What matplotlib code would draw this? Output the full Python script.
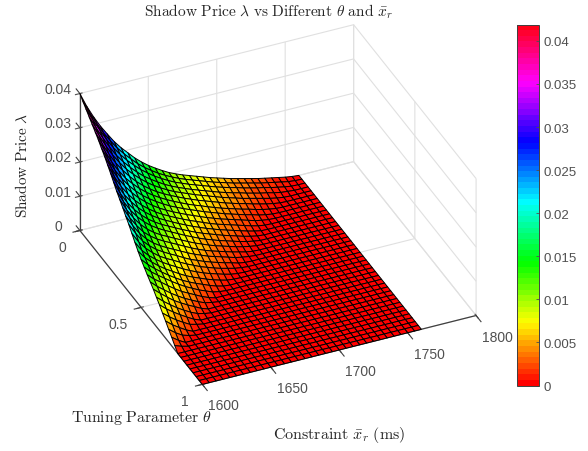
import matplotlib
matplotlib.use("Agg")
import matplotlib.pyplot as plt
from matplotlib.colors import ListedColormap, Normalize
from matplotlib.cm import ScalarMappable
import numpy as np

plt.rcParams['font.family'] = ['Liberation Sans', 'DejaVu Sans']
plt.rcParams['mathtext.fontset'] = 'cm'

constraint_ms = [1600 + 5 * k for k in range(33)]
theta_values = [0.025 * k for k in range(41)]

# Shadow price in units of 1e-4: one row per theta, columns follow constraint_ms,
# trailing zeros left out. These are eye estimates: the outline and colour-band
# positions were read from the picture and the cells between them were judged by hand.
price_rows_e4 = [
    [400, 358, 322, 290, 262, 235, 212, 192, 172, 155, 140, 127, 115, 104, 95, 87, 80, 73, 66, 59, 53, 47, 41, 36, 31, 26, 21, 17, 13, 9, 5, 2],
    [388, 349, 314, 281, 253, 227, 205, 185, 166, 150, 136, 123, 112, 102, 93, 85, 78, 71, 64, 57, 51, 45, 39, 34, 29, 24, 19, 15, 11, 7, 3, 1],
    [377, 340, 306, 273, 244, 219, 197, 178, 160, 145, 131, 119, 108, 98, 90, 82, 75, 68, 61, 54, 48, 42, 37, 31, 26, 21, 17, 12, 8, 4, 1],
    [366, 329, 294, 262, 233, 209, 188, 169, 152, 138, 125, 113, 103, 94, 86, 78, 71, 64, 57, 50, 44, 38, 33, 27, 22, 17, 13, 8, 4, 2],
    [355, 318, 282, 250, 223, 199, 179, 161, 145, 131, 119, 108, 98, 90, 82, 74, 67, 60, 53, 46, 40, 34, 28, 23, 18, 13, 8, 4, 1],
    [344, 305, 269, 238, 212, 189, 169, 152, 137, 124, 113, 103, 94, 85, 77, 69, 62, 55, 48, 41, 35, 29, 24, 18, 13, 8, 4, 1],
    [333, 293, 256, 226, 200, 179, 160, 144, 130, 118, 107, 97, 88, 79, 71, 64, 56, 49, 42, 36, 30, 24, 19, 13, 8, 4, 1],
    [320, 280, 244, 215, 190, 169, 151, 136, 123, 111, 100, 91, 82, 74, 66, 58, 51, 44, 37, 31, 25, 19, 14, 8, 4, 1],
    [308, 267, 232, 204, 180, 160, 143, 128, 115, 104, 94, 85, 76, 68, 60, 52, 45, 38, 32, 26, 20, 14, 8, 4, 1],
    [294, 253, 219, 192, 169, 150, 134, 120, 108, 98, 88, 79, 70, 62, 54, 46, 39, 33, 27, 21, 15, 9, 4, 1],
    [280, 240, 207, 181, 159, 141, 126, 113, 102, 92, 82, 73, 64, 56, 48, 41, 34, 28, 22, 16, 10, 5, 1],
    [265, 226, 195, 170, 149, 132, 118, 106, 96, 86, 76, 67, 58, 50, 43, 36, 29, 23, 17, 11, 6, 2],
    [250, 214, 184, 160, 140, 124, 111, 100, 90, 80, 70, 61, 52, 44, 37, 30, 24, 18, 12, 7, 3],
    [237, 202, 173, 149, 130, 115, 103, 93, 83, 73, 63, 54, 46, 38, 31, 25, 19, 13, 8, 4, 1],
    [224, 190, 162, 138, 121, 107, 96, 86, 76, 66, 56, 47, 39, 32, 26, 20, 14, 9, 4, 1],
    [210, 178, 150, 129, 112, 99, 88, 78, 68, 58, 49, 41, 33, 27, 21, 15, 9, 5, 2],
    [197, 166, 139, 120, 104, 92, 81, 71, 60, 50, 42, 34, 27, 21, 15, 10, 4, 1],
    [182, 152, 129, 111, 96, 84, 74, 63, 53, 44, 35, 28, 21, 15, 10, 5, 2],
    [167, 139, 119, 103, 89, 77, 66, 55, 45, 36, 28, 21, 15, 9, 4, 1],
    [153, 129, 111, 95, 81, 69, 57, 46, 37, 29, 21, 14, 8, 3, 1],
    [140, 120, 103, 88, 74, 61, 49, 39, 30, 22, 14, 7, 2],
    [129, 110, 95, 81, 67, 54, 42, 32, 22, 14, 6, 2],
    [118, 100, 86, 71, 57, 44, 34, 24, 14, 6],
    [108, 90, 75, 60, 47, 35, 25, 15, 7, 3],
    [98, 81, 65, 50, 38, 27, 17, 7],
    [86, 69, 54, 40, 28, 17, 8, 3],
    [75, 58, 44, 31, 19, 8],
    [62, 46, 32, 20, 9, 4],
    [50, 34, 21, 9],
    [37, 22, 10, 4],
    [25, 11],
    [12, 5],
    [], [], [], [], [], [], [], [], [],
]

color_limit = 0.0419
x_ticks = [1600, 1650, 1700, 1750, 1800]
theta_ticks = [0, 0.5, 1]
theta_tick_labels = ['0', '0.5', '1']
z_ticks = [0, 0.01, 0.02, 0.03, 0.04]
z_tick_labels = ['0', '0.01', '0.02', '0.03', '0.04']
cbar_ticks = [0, 0.005, 0.01, 0.015, 0.02, 0.025, 0.03, 0.035, 0.04]
cbar_tick_labels = ['0', '0.005', '0.01', '0.015', '0.02', '0.025', '0.03', '0.035', '0.04']

W, H = 588, 452
fig = plt.figure(figsize=(W / 100, H / 100), dpi=100)
ax = fig.add_axes([51 / W, 19.5 / H, 442 / W, 442 / H], projection='3d')
ax.set_proj_type('ortho')
ax.view_init(elev=34.2, azim=-114.1)
ax.set_box_aspect((1, 1, 0.552))

Z = np.zeros((len(theta_values), len(constraint_ms)))
for i, row in enumerate(price_rows_e4):
    Z[i, :len(row)] = row
Z = Z * 1e-4
X, Y = np.meshgrid(constraint_ms, theta_values)

cmap = ListedColormap(plt.get_cmap('hsv')(np.linspace(0, 1, 64)))
norm = Normalize(0, color_limit)
ax.plot_surface(X, Y, Z, rstride=1, cstride=1, facecolors=cmap(norm(Z)),
                edgecolor='black', linewidth=0.7, shade=False, antialiased=True)

# Short outward tick marks along the three visible axis edges.
tick_style = dict(color='#404040', linewidth=0.8)
for x in x_ticks:
    ax.plot([x, x], [1, 1.04], [0, 0], **tick_style)
for t in theta_ticks:
    ax.plot([1600, 1595], [t, t], [0, 0], **tick_style)
for z in z_ticks:
    ax.plot([1600, 1600], [0, -0.03], [z, z], **tick_style)

ax.set_xlim(1600, 1800)
ax.set_ylim(1, 0)
ax.set_zlim(0, 0.04)
ax.set_xticks(x_ticks)
ax.set_yticks(theta_ticks)
ax.set_yticklabels(theta_tick_labels)
ax.set_zticks(z_ticks)
ax.set_zticklabels(z_tick_labels)
ax.tick_params(labelsize=10, colors='#505050', pad=0)
ax.tick_params(axis='z', pad=1)

for label in ax.xaxis.get_ticklabels():
    label.set_ha('left')
for label in ax.yaxis.get_ticklabels():
    label.set_ha('right')
for label in ax.zaxis.get_ticklabels():
    label.set_va('center')

for axis in (ax.xaxis, ax.yaxis, ax.zaxis):
    axis.set_pane_color((1, 1, 1, 0))
    axis.pane.set_edgecolor((1, 1, 1, 0))
    axis.line.set_color('#404040')
    axis.line.set_linewidth(0.9)
    axis._axinfo['grid'].update(color='#e0e0e0', linewidth=0.8, linestyle='-')

fig.text(269 / W, 1 - 12 / H,
         r'$\mathrm{Shadow\ Price\ }\lambda\mathrm{\ vs\ Different\ }\theta\mathrm{\ and\ }\bar{x}_r$',
         ha='center', va='center', fontsize=11.1, color='#262626')
fig.text(141 / W, 1 - 418 / H, r'$\mathrm{Tuning\ Parameter\ }\theta$',
         ha='center', va='center', fontsize=11.4, color='#262626')
fig.text(339 / W, 1 - 435 / H, r'$\mathrm{Constraint\ }\bar{x}_r\mathrm{\ (ms)}$',
         ha='center', va='center', fontsize=11.5, color='#262626')
fig.text(22 / W, 1 - 165 / H, r'$\mathrm{Shadow\ Price\ }\lambda$',
         ha='center', va='center', rotation=90, fontsize=11, color='#262626')

cax = fig.add_axes([517 / W, 1 - 386.5 / H, 22 / W, 361 / H])
cb = fig.colorbar(ScalarMappable(norm=norm, cmap=cmap), cax=cax)
cb.set_ticks(cbar_ticks)
cb.set_ticklabels(cbar_tick_labels)
cb.ax.tick_params(direction='in', length=2.5, width=0.6, labelsize=9.5,
                  colors='#505050', pad=3)
cb.outline.set_edgecolor('#404040')
cb.outline.set_linewidth(0.7)

fig.savefig('out.png', dpi=100)
